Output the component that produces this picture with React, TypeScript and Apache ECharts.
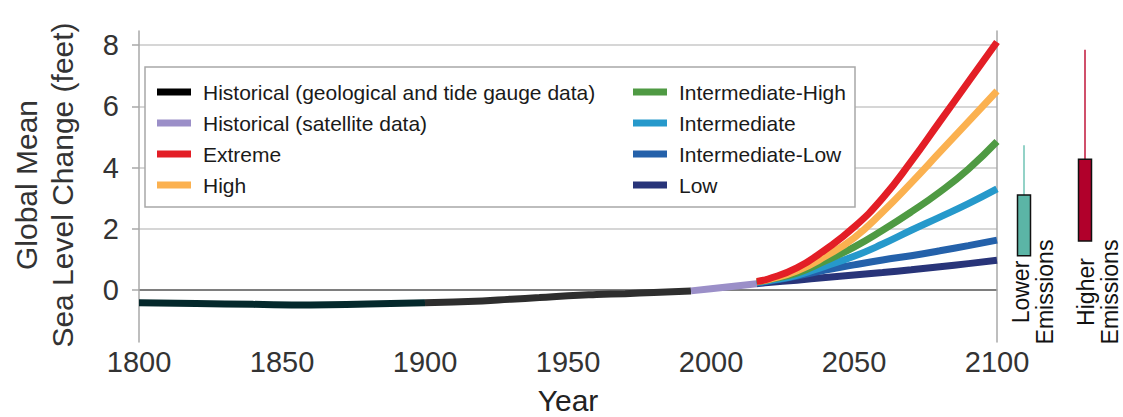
import React, { useEffect, useRef } from 'react';
import * as echarts from 'echarts';

// ---- Data ----
const geoYears = [1800, 1820, 1840, 1860, 1880, 1900];
const geoValues = [-0.42, -0.44, -0.47, -0.49, -0.46, -0.42];
const tideYears = [1900, 1920, 1930, 1940, 1950, 1960, 1970, 1980, 1993];
const tideValues = [-0.42, -0.36, -0.3, -0.25, -0.19, -0.15, -0.12, -0.08, -0.03];
const satelliteYears = [1993, 2000, 2008, 2016];
const satelliteValues = [-0.03, 0.04, 0.12, 0.2];

const scenarioYears = [2016, 2020, 2030, 2040, 2050, 2060, 2070, 2080, 2090, 2100];
const extremeValues = [0.28, 0.36, 0.72, 1.32, 2.05, 3.0, 4.2, 5.5, 6.8, 8.1];
const highValues = [0.27, 0.34, 0.62, 1.1, 1.7, 2.55, 3.5, 4.5, 5.5, 6.5];
const intHighValues = [0.26, 0.33, 0.55, 0.95, 1.4, 1.95, 2.55, 3.2, 3.95, 4.85];
const intValues = [0.25, 0.3, 0.48, 0.78, 1.1, 1.5, 1.95, 2.38, 2.82, 3.3];
const intLowValues = [0.22, 0.28, 0.45, 0.65, 0.82, 0.98, 1.12, 1.28, 1.45, 1.63];
const lowValues = [0.2, 0.24, 0.32, 0.41, 0.49, 0.57, 0.66, 0.76, 0.86, 0.97];

const emissionCategories = ['Lower Emissions', 'Higher Emissions'];
const emissionBoxLow = [1.12, 1.6];
const emissionBoxHigh = [3.1, 4.27];
const emissionWhiskerHigh = [4.73, 7.85];

const yTickValues = [0, 2, 4, 6, 8];

const FONT = 'Liberation Sans, Arial, Helvetica, sans-serif';
const Y_MIN = -1.7;
const Y_MAX = 8.46;

const zip = (xs: number[], ys: number[]) => xs.map((x, i) => [x, ys[i]]);

const NAME_GEO = 'Historical (geological and tide gauge data)';
const NAME_SAT = 'Historical (satellite data)';

function lineSeries(name: string, xs: number[], ys: number[], color: string, smooth: boolean | number = 0.5, itemColor?: string) {
  return {
    type: 'line',
    name,
    xAxisIndex: 0,
    yAxisIndex: 0,
    data: zip(xs, ys),
    smooth,
    showSymbol: false,
    symbol: 'none',
    lineStyle: { color, width: 7, cap: 'butt' },
    itemStyle: { color: itemColor || color },
    emphasis: { disabled: true },
    silent: true,
  };
}

export default function App() {
  const ref = useRef<HTMLDivElement>(null);

  useEffect(() => {
    if (!ref.current) return;
    const chart = echarts.init(ref.current, null, { renderer: 'svg' });

    const legendText = {
      fontSize: 21,
      color: '#1a1a1a',
      fontFamily: FONT,
      padding: [0, 0, 0, 7],
    };

    const option: any = {
      animation: false,
      textStyle: { fontFamily: FONT },
      grid: [
        { left: 139, right: 126, top: 31, bottom: 75, outerBoundsMode: 'none', containLabel: false },
        { left: 993.5, right: 7.5, top: 31, bottom: 75, outerBoundsMode: 'none', containLabel: false },
      ],
      xAxis: [
        {
          type: 'value',
          gridIndex: 0,
          min: 1800,
          max: 2100,
          interval: 50,
          axisLine: { show: false },
          axisTick: { show: false },
          splitLine: { show: false },
          axisLabel: { fontSize: 29, color: '#333', margin: 5, fontFamily: FONT, formatter: (v: number) => String(v) },
          name: 'Year',
          nameLocation: 'middle',
          nameGap: 43,
          nameTextStyle: { fontSize: 30, color: '#222', fontFamily: FONT },
        },
        {
          type: 'value',
          gridIndex: 0,
          position: 'top',
          min: 1800,
          max: 2100,
          axisLine: { show: true, lineStyle: { color: '#a8a8a8', width: 1.5 } },
          axisTick: { show: false },
          axisLabel: { show: false },
          splitLine: { show: false },
        },
        {
          type: 'category',
          gridIndex: 1,
          data: emissionCategories,
          show: false,
        },
      ],
      yAxis: [
        {
          type: 'value',
          gridIndex: 0,
          min: Y_MIN,
          max: Y_MAX,
          axisLine: { show: true, lineStyle: { color: '#a8a8a8', width: 1.5 } },
          axisTick: { show: true, length: 7, lineStyle: { color: '#a8a8a8', width: 1.5 }, customValues: yTickValues },
          axisLabel: { fontSize: 29, color: '#333', margin: 20, customValues: yTickValues, fontFamily: FONT },
          splitLine: {
            show: true,
            lineStyle: {
              width: 2,
              color: ['#000000', '#d6d6d6', '#d6d6d6', '#d6d6d6', '#d6d6d6', 'rgba(0,0,0,0)', 'rgba(0,0,0,0)'],
            },
          },
        },
        {
          type: 'value',
          gridIndex: 0,
          position: 'right',
          min: Y_MIN,
          max: Y_MAX,
          axisLine: { show: true, lineStyle: { color: '#a8a8a8', width: 1.5 } },
          axisTick: { show: false },
          axisLabel: { show: false },
          splitLine: { show: false },
        },
        {
          type: 'value',
          gridIndex: 1,
          min: Y_MIN,
          max: Y_MAX,
          show: false,
          splitLine: { show: false },
        },
      ],
      legend: [
        {
          data: [
            { name: NAME_GEO, itemStyle: { color: '#000' } },
            { name: NAME_SAT },
            { name: 'Extreme' },
            { name: 'High' },
          ],
          orient: 'vertical',
          left: 157,
          top: 81.5,
          padding: 0,
          itemWidth: 34,
          itemHeight: 7,
          itemGap: 10,
          icon: 'rect',
          selectedMode: false,
          textStyle: legendText,
          z: 10,
        },
        {
          data: [
            { name: 'Intermediate-High' },
            { name: 'Intermediate' },
            { name: 'Intermediate-Low' },
            { name: 'Low' },
          ],
          orient: 'vertical',
          left: 633,
          top: 81.5,
          padding: 0,
          itemWidth: 34,
          itemHeight: 7,
          itemGap: 10,
          icon: 'rect',
          selectedMode: false,
          textStyle: legendText,
          z: 10,
        },
      ],
      graphic: {
        elements: [
          {
            type: 'rect',
            z: 3,
            shape: { x: 145, y: 67, width: 710, height: 140 },
            style: { fill: '#ffffff', stroke: '#a8a8a8', lineWidth: 1.5 },
            silent: true,
          },
          {
            type: 'text',
            z: 3,
            x: 44,
            y: 185,
            rotation: Math.PI / 2,
            style: {
              text: 'Global Mean\nSea Level Change (feet)',
              align: 'center',
              verticalAlign: 'middle',
              fontSize: 30,
              lineHeight: 36,
              fill: '#333',
              fontFamily: FONT,
            },
            silent: true,
          },
          {
            type: 'text',
            z: 3,
            x: 1033,
            y: 292,
            rotation: Math.PI / 2,
            style: {
              text: 'Lower\nEmissions',
              align: 'center',
              verticalAlign: 'middle',
              fontSize: 23,
              lineHeight: 24,
              fill: '#111',
              fontFamily: FONT,
            },
            silent: true,
          },
          {
            type: 'text',
            z: 3,
            x: 1098,
            y: 292,
            rotation: Math.PI / 2,
            style: {
              text: 'Higher\nEmissions',
              align: 'center',
              verticalAlign: 'middle',
              fontSize: 23,
              lineHeight: 24,
              fill: '#111',
              fontFamily: FONT,
            },
            silent: true,
          },
        ],
      },
      series: [
        lineSeries(NAME_GEO, geoYears, geoValues, '#04282b', 0.5, '#000'),
        lineSeries('Historical (tide gauge data)', tideYears, tideValues, '#2e2e2e', 0.5),
        lineSeries(NAME_SAT, satelliteYears, satelliteValues, '#9b8fc8', false),
        lineSeries('Low', scenarioYears, lowValues, '#283479'),
        lineSeries('Intermediate-Low', scenarioYears, intLowValues, '#2461aa'),
        lineSeries('Intermediate', scenarioYears, intValues, '#2699cb'),
        lineSeries('Intermediate-High', scenarioYears, intHighValues, '#4f9a43'),
        lineSeries('High', scenarioYears, highValues, '#fbb150'),
        lineSeries('Extreme', scenarioYears, extremeValues, '#e31e26'),
        {
          type: 'custom',
          name: 'Emissions ranges',
          xAxisIndex: 2,
          yAxisIndex: 2,
          silent: true,
          data: emissionCategories.map((c, i) => [i, emissionBoxLow[i], emissionBoxHigh[i], emissionWhiskerHigh[i]]),
          renderItem: (params: any, api: any) => {
            const i = params.dataIndex;
            const x = api.value(0);
            const lo = api.coord([x, api.value(1)]);
            const hi = api.coord([x, api.value(2)]);
            const top = api.coord([x, api.value(3)]);
            const boxColor = i === 0 ? '#5bb5a6' : '#b1002b';
            const whiskerColor = i === 0 ? '#6fc3b5' : '#c0163a';
            return {
              type: 'group',
              children: [
                {
                  type: 'line',
                  shape: { x1: hi[0], y1: top[1], x2: hi[0], y2: hi[1] },
                  style: { stroke: whiskerColor, lineWidth: 1.5 },
                },
                {
                  type: 'rect',
                  shape: { x: lo[0] - 6.5, y: hi[1], width: 13, height: lo[1] - hi[1] },
                  style: { fill: boxColor, stroke: '#111', lineWidth: 1.5 },
                },
              ],
            };
          },
        },
      ],
    };

    chart.setOption(option);
    return () => chart.dispose();
  }, []);

  return (
    <div
      ref={ref}
      style={{ position: 'fixed', left: 0, top: 0, width: 1123, height: 417, background: '#fff' }}
    />
  );
}
